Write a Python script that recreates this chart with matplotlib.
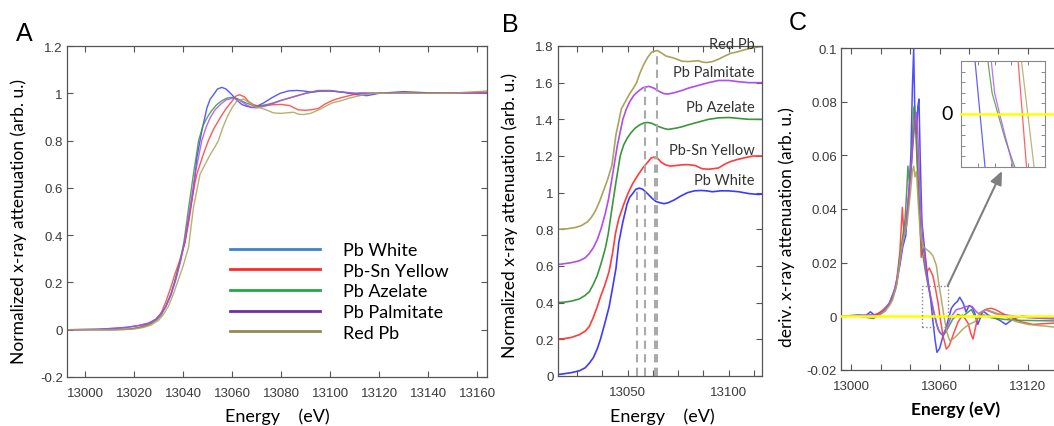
import matplotlib
matplotlib.use("Agg")
import matplotlib.pyplot as plt
from matplotlib.lines import Line2D
from matplotlib.patches import Rectangle

# ---- panel A / B: normalized XANES (eV, arb. u.) ----
names = ["Pb White", "Pb-Sn Yellow", "Pb Azelate", "Pb Palmitate", "Red Pb"]

white_e = [12993, 13005, 13012, 13017, 13022, 13026, 13029, 13031, 13033, 13035, 13036.5, 13038.5,
           13040.8, 13042.5, 13044.2, 13045.6, 13047.6, 13049.7, 13051, 13052.4, 13054, 13055.8,
           13057.5, 13059.9, 13062, 13064, 13066, 13068, 13070, 13073, 13076, 13079.6, 13083,
           13086.4, 13089, 13092, 13096, 13100, 13105, 13110, 13115, 13120, 13130, 13140, 13150, 13164]
white_v = [0, 0.002, 0.006, 0.01, 0.018, 0.028, 0.045, 0.07, 0.1, 0.15, 0.2, 0.28, 0.377, 0.48,
           0.587, 0.728, 0.84, 0.938, 0.975, 0.994, 1.018, 1.025, 1.018, 0.994, 0.97, 0.952, 0.945,
           0.94, 0.945, 0.96, 0.98, 1.0, 1.01, 1.012, 1.01, 1.005, 1.01, 1.01, 1.005, 0.995, 0.99,
           1.0, 1.007, 1.002, 1.0, 1.0]

yellow_e = [12993, 13010, 13018, 13022, 13026, 13029, 13031, 13033, 13035, 13036.7, 13038.5, 13040.8,
            13042.5, 13044, 13045.6, 13048, 13050.3, 13052.5, 13055.1, 13057.5, 13059.9, 13061.5,
            13063, 13065, 13066.7, 13068.7, 13071, 13074, 13077, 13080, 13082, 13083.5, 13085, 13087,
            13090, 13092, 13095, 13098, 13101, 13104, 13107, 13112, 13120, 13140, 13164]
yellow_v = [0, 0, 0.003, 0.01, 0.025, 0.045, 0.07, 0.12, 0.18, 0.237, 0.29, 0.37, 0.47, 0.58, 0.658,
            0.735, 0.8, 0.85, 0.896, 0.935, 0.966, 0.988, 0.994, 0.985, 0.965, 0.952, 0.945, 0.948,
            0.952, 0.953, 0.95, 0.948, 0.94, 0.93, 0.928, 0.93, 0.935, 0.955, 0.97, 0.98, 0.988, 1.0,
            1.0, 1.0, 1.005]

azelate_e = [12993, 13012, 13018, 13022, 13026, 13029, 13031, 13033, 13035, 13037, 13039, 13040.4,
             13042.3, 13044.2, 13046.3, 13048, 13049.7, 13051.5, 13053.7, 13056, 13058, 13059.9, 13062,
             13065, 13068, 13070, 13074, 13077, 13080, 13085, 13090, 13095, 13100, 13105, 13110, 13130,
             13164]
azelate_v = [0, 0, 0.002, 0.008, 0.02, 0.04, 0.06, 0.1, 0.15, 0.22, 0.3, 0.377, 0.52, 0.658, 0.8,
             0.86, 0.896, 0.925, 0.952, 0.97, 0.98, 0.983, 0.978, 0.962, 0.95, 0.945, 0.952, 0.96,
             0.97, 0.985, 1.0, 1.008, 1.01, 1.005, 1.0, 1.0, 1.0]

palmitate_e = [12993, 13005, 13012, 13017, 13022, 13026, 13029, 13031, 13033, 13035, 13037, 13039,
               13040.6, 13042.7, 13044.9, 13047.6, 13049.3, 13051, 13053, 13055.1, 13057.5, 13060.5,
               13063, 13066, 13068, 13070, 13073, 13077, 13080, 13085, 13090, 13095, 13100, 13105,
               13110, 13130, 13164]
palmitate_v = [0, 0.002, 0.006, 0.01, 0.018, 0.028, 0.045, 0.068, 0.1, 0.145, 0.21, 0.29, 0.37, 0.51,
               0.658, 0.8, 0.855, 0.896, 0.93, 0.952, 0.972, 0.98, 0.97, 0.95, 0.94, 0.938, 0.945,
               0.958, 0.97, 0.985, 1.0, 1.012, 1.012, 1.005, 1.0, 1.0, 1.0]

redpb_e = [12993, 13015, 13020, 13024, 13027, 13030, 13032, 13034, 13036, 13038, 13040, 13042.2,
           13044.2, 13046.9, 13049, 13051, 13052.8, 13054.4, 13056, 13057.8, 13060, 13061.9, 13064.6,
           13067, 13069, 13072.6, 13076.9, 13080, 13083, 13085, 13087, 13089.1, 13092, 13095.4, 13098,
           13101, 13104, 13108, 13112, 13117.6, 13130, 13150, 13164]
redpb_v = [0, 0, 0.003, 0.01, 0.02, 0.04, 0.065, 0.1, 0.15, 0.21, 0.27, 0.349, 0.517, 0.658, 0.7,
           0.74, 0.77, 0.8, 0.85, 0.896, 0.94, 0.966, 0.976, 0.96, 0.945, 0.935, 0.917, 0.915, 0.918,
           0.92, 0.912, 0.91, 0.915, 0.93, 0.945, 0.96, 0.967, 0.98, 0.99, 1.0, 1.0, 1.0, 1.01]

# vertical offsets used in panel B
b_offsets = [0.0, 0.2, 0.4, 0.6, 0.8]
# dashed markers in panel B: energy and top of the line
peak_e = [13054.6, 13058.7, 13063.7, 13064.4]
peak_top = [1.02, 1.58, 1.2, 1.77]

# ---- panel C: first derivative ----
d_white_e = [12993, 13000, 13005, 13010, 13013, 13016, 13020, 13025, 13028, 13030, 13033, 13035, 13037,
             13039, 13040.5, 13041.5, 13042.4, 13043.3, 13044.3, 13045.2, 13046, 13046.8, 13048, 13050,
             13052, 13054, 13055.5, 13057, 13058.2, 13060, 13062, 13064, 13066, 13068, 13070, 13072,
             13073.7, 13076, 13078, 13080, 13082, 13084, 13086, 13089.5, 13093, 13097, 13101, 13105,
             13110, 13116, 13125, 13138, 13150]
d_white_v = [0, 0.0003, 0.0005, 0.0003, 0.0017, 0.0003, 0.0015, 0.004, 0.007, 0.010, 0.019, 0.026,
             0.03, 0.045, 0.06, 0.085, 0.0996, 0.072, 0.068, 0.078, 0.081, 0.06, 0.035, 0.024, 0.014,
             0.006, -0.002, -0.009, -0.0134, -0.012, -0.008, -0.005, -0.001, 0.003, 0.0045, 0.0055,
             0.0071, 0.005, 0.0016, 0.004, 0.0035, 0.001, -0.003, 0.002, 0.0005, -0.0005, -0.0015,
             -0.003, -0.001, 0.0002, -0.0005, -0.0005, -0.0005]

d_yellow_e = [12993, 13005, 13012, 13018, 13022, 13026, 13029, 13031, 13033, 13034.7, 13035.8, 13037,
              13038.5, 13040, 13041.5, 13042.5, 13043.5, 13044.5, 13045.5, 13046.5, 13047.5, 13048.7,
              13050, 13051, 13053, 13055.5, 13057, 13058.9, 13060.5, 13062.3, 13064.6, 13066.5,
              13068.5, 13070.5, 13072.5, 13075.5, 13077.5, 13079.5, 13081, 13082.7, 13084.5, 13086,
              13089, 13091.8, 13095, 13098, 13103, 13107.7, 13115, 13123.5, 13138, 13150]
d_yellow_v = [0, 0.0002, 0.0, 0.001, 0.0025, 0.005, 0.009, 0.014, 0.024, 0.0406, 0.03, 0.033, 0.04,
              0.05, 0.062, 0.07, 0.075, 0.064, 0.05, 0.038, 0.022, 0.025, 0.023, 0.0164, 0.018, 0.015,
              0.011, 0.0052, -0.001, -0.0072, -0.0122, -0.011, -0.008, -0.005, -0.0022, 0.0005,
              -0.001, -0.0027, -0.006, -0.0085, -0.004, 0.0, 0.0015, 0.0027, 0.003, 0.0025, 0.001,
              -0.0001, -0.002, -0.003, -0.0025, -0.002]

d_azelate_e = [12993, 13005, 13010, 13015, 13019, 13023, 13026, 13029, 13031, 13033, 13035, 13036.5,
               13037.5, 13038.5, 13039.5, 13040.5, 13041.5, 13042.3, 13043, 13043.8, 13044.5, 13045.5,
               13046.5, 13048, 13050, 13052, 13055, 13058, 13060, 13062.3, 13064, 13066, 13069,
               13072.5, 13075.9, 13078, 13081.6, 13085, 13090, 13095, 13105, 13115, 13138, 13150]
d_azelate_v = [0, 0.0002, -0.0003, -0.0008, 0.0005, 0.002, 0.005, 0.009, 0.013, 0.022, 0.03, 0.036,
               0.045, 0.056, 0.05, 0.052, 0.065, 0.077, 0.0785, 0.07, 0.06, 0.048, 0.038, 0.025, 0.018,
               0.012, 0.004, -0.003, -0.006, -0.0072, -0.006, -0.004, -0.001, 0.0007, -0.0001, 0.001,
               0.0025, -0.001, 0.0005, -0.0005, -0.0012, -0.0015, -0.0017, -0.0017]

d_palmitate_e = [12993, 13005, 13013, 13018, 13022, 13026, 13030, 13033, 13035, 13037, 13039, 13041,
                 13042.5, 13043.5, 13044.2, 13045, 13045.8, 13047, 13049, 13051, 13053, 13056, 13059,
                 13062, 13065, 13068, 13071.4, 13075, 13078, 13082, 13084.5, 13086.5, 13091, 13098,
                 13108, 13120, 13138, 13150]
d_palmitate_v = [0, 0.0002, 0.0006, 0.0004, 0.002, 0.005, 0.011, 0.02, 0.027, 0.034, 0.046, 0.058,
                 0.068, 0.074, 0.076, 0.07, 0.06, 0.042, 0.026, 0.016, 0.01, 0.002, -0.005, -0.007,
                 -0.004, 0.0, 0.0025, 0.003, 0.0037, 0.0037, 0.002, 0.001, 0.0025, 0.001, 0.0003,
                 -0.0005, -0.001, -0.001]

d_redpb_e = [12993, 13005, 13012, 13018, 13023, 13026, 13028, 13031, 13034, 13036, 13038, 13040,
             13041.5, 13042.4, 13043.3, 13044.3, 13045.5, 13047, 13049, 13051, 13053.3, 13055.5,
             13057.8, 13059.5, 13061.2, 13063, 13065, 13066.9, 13069, 13072, 13075.9, 13080, 13084,
             13088, 13091.8, 13097, 13104, 13112, 13120, 13138, 13150]
d_redpb_v = [0, 0.0001, -0.0005, 0.0, 0.002, 0.004, 0.006, 0.012, 0.025, 0.03, 0.035, 0.045, 0.054,
             0.056, 0.052, 0.054, 0.042, 0.03, 0.026, 0.025, 0.024, 0.0225, 0.019, 0.012, 0.0064, 0.0,
             -0.006, -0.0091, -0.0085, -0.007, -0.0047, -0.003, -0.002, 0.0015, 0.0025, 0.0015, 0.0,
             -0.002, -0.003, -0.004, -0.004]

# zoom inset in panel C (inset units: x 0..1, y -1..1, zero line at 0)
ins_white_x, ins_white_y = [0.167, 0.286], [1, -1]
ins_azelate_x, ins_azelate_y = [0.32, 0.37, 0.44, 0.53, 0.64], [1, 0.4, 0, -0.5, -1]
ins_palmitate_x, ins_palmitate_y = [0.36, 0.40, 0.46, 0.54, 0.62], [1, 0.4, 0, -0.5, -1]
ins_yellow_x, ins_yellow_y = [0.68, 0.78], [1, -1]
ins_redpb_x, ins_redpb_y = [0.72, 0.87], [1, -1]

line_colors = ["#3b3bff", "#ff3b3b", "#3c963c", "#b04cf0", "#a8a45a"]
legend_colors = ["#3d85c6", "#ff2a2a", "#22aa44", "#7030a0", "#948a54"]

TICK = "#3a3a3a"
LABEL_FONT = ["Lato", "DejaVu Sans"]
plt.rcParams["font.family"] = ["Liberation Sans", "DejaVu Sans"]

W, H = 1054, 427
fig = plt.figure(figsize=(W / 100, H / 100), dpi=100)


def axes_px(left, top, right, bottom):
    return fig.add_axes([left / W, 1 - bottom / H, (right - left) / W, (bottom - top) / H])


def style(ax):
    ax.tick_params(which="both", direction="in", top=True, right=True, length=4,
                   width=0.8, color="#555555", labelsize=9.5, labelcolor=TICK)
    ax.tick_params(axis="x", pad=7)
    ax.tick_params(axis="y", pad=3)
    for sp in ax.spines.values():
        sp.set_color("#555555")
        sp.set_linewidth(0.9)


def fmt(v):
    return f"{v:g}"


curves = [(white_e, white_v), (yellow_e, yellow_v), (azelate_e, azelate_v),
          (palmitate_e, palmitate_v), (redpb_e, redpb_v)]
dcurves = [(d_white_e, d_white_v), (d_yellow_e, d_yellow_v), (d_azelate_e, d_azelate_v),
           (d_palmitate_e, d_palmitate_v), (d_redpb_e, d_redpb_v)]

# ---------------- A ----------------
axA = axes_px(67, 47, 487, 378)
for (e, v), c in zip(curves, line_colors):
    axA.plot(e, v, color=c, lw=1.0, alpha=0.85)
axA.set_xlim(12992.6, 13164)
axA.set_ylim(-0.2, 1.2)
xt = list(range(13000, 13161, 20))
axA.set_xticks(xt)
yt = [-0.2, 0, 0.2, 0.4, 0.6, 0.8, 1.0, 1.2]
axA.set_yticks(yt)
axA.set_yticklabels([fmt(v) for v in yt])
style(axA)
handles = [Line2D([], [], color=c, lw=2.0) for c in legend_colors]
axA.legend(handles, names, loc="upper left", bbox_to_anchor=(0.388, 0.408), frameon=False,
           borderpad=0, borderaxespad=0, handlelength=5.0, handletextpad=1.25,
           labelspacing=0.26, prop={"family": LABEL_FONT, "size": 13})

# ---------------- B ----------------
axB = axes_px(558, 47, 762, 377)
for (e, v), c, off in zip(curves, line_colors, b_offsets):
    axB.plot(e, [y + off for y in v], color=c, lw=1.2)
for pe, pt in zip(peak_e, peak_top):
    axB.plot([pe, pe], [0, pt], color="#aaaaaa", lw=1.5, ls=(0, (4, 2.5)))
axB.set_xlim(13015.5, 13116.5)
axB.set_ylim(0, 1.8)
bx = [13025, 13037.5, 13050, 13062.5, 13075, 13087.5, 13100, 13112.5]
axB.set_xticks(bx)
axB.set_xticklabels([fmt(v) if v in (13050, 13100) else "" for v in bx])
byt = [0, 0.2, 0.4, 0.6, 0.8, 1.0, 1.2, 1.4, 1.6, 1.8]
axB.set_yticks(byt)
axB.set_yticklabels([fmt(v) for v in byt])
style(axB)
b_label_y = [1.07, 1.233, 1.47, 1.66, 1.81]
for name, ly in zip(names, b_label_y):
    axB.text(13113, ly, name, ha="right", va="center", fontsize=10.5, family=LABEL_FONT,
             color="#333333")

# ---------------- C ----------------
axC = axes_px(841, 49, 1072, 371)
for (e, v), c in zip(dcurves, line_colors):
    axC.plot(e, v, color=c, lw=1.1, alpha=0.9)
axC.axhline(0, color="#ffff00", lw=1.8, zorder=4)
axC.add_patch(Rectangle((13047.8, -0.004), 17.7, 0.0153, fill=False, ls=":", lw=1.0,
                        edgecolor="#888888", zorder=5))
axC.set_xlim(12993, 13150)
axC.set_ylim(-0.02, 0.1)
cx = list(range(13000, 13141, 20))
axC.set_xticks(cx)
axC.set_xticklabels([fmt(v) if v in (13000, 13060, 13120) else "" for v in cx])
cyt = [-0.02, 0, 0.02, 0.04, 0.06, 0.08, 0.1]
axC.set_yticks(cyt)
axC.set_yticklabels([fmt(v) for v in cyt])
style(axC)
axC.annotate("", xy=(1002 / W, 1 - 172 / H), xycoords="figure fraction",
             xytext=(13065.5, 0.0113), textcoords="data",
             arrowprops=dict(arrowstyle="-|>,head_length=0.8,head_width=0.35",
                             color="#7f7f7f", lw=1.5, shrinkA=0, shrinkB=0))

axI = axes_px(961, 62, 1045, 168)
ins = [(ins_white_x, ins_white_y), (ins_yellow_x, ins_yellow_y), (ins_azelate_x, ins_azelate_y),
       (ins_palmitate_x, ins_palmitate_y), (ins_redpb_x, ins_redpb_y)]
for (x, y), c in zip(ins, line_colors):
    axI.plot(x, y, color=c, lw=0.9, alpha=0.8)
axI.axhline(0, xmin=0, xmax=1.12, color="#ffff00", lw=1.8, clip_on=False, zorder=4)
axI.set_xlim(0, 1)
axI.set_ylim(-1, 1)
axI.set_xticks([0.2, 0.4, 0.6, 0.8])
axI.set_yticks([-0.8, -0.6, -0.4, -0.2, 0, 0.2, 0.4, 0.6, 0.8])
axI.tick_params(which="both", direction="in", top=True, right=True, length=3, width=0.7,
                color="#888888", labelbottom=False, labelleft=False)
for sp in axI.spines.values():
    sp.set_color("#888888")
axI.text(-0.17, 0.5, "0", transform=axI.transAxes, ha="center", va="center", fontsize=14,
         family=LABEL_FONT)

# ---------------- labels ----------------
ylab = "Normalized x-ray attenuation (arb. u.)"
fig.text(19 / W, 1 - 221 / H, ylab, rotation=90, ha="center", va="center", fontsize=12.5,
         family=LABEL_FONT)
fig.text(510 / W, 1 - 216 / H, ylab, rotation=90, ha="center", va="center", fontsize=12.5,
         family=LABEL_FONT)
fig.text(787 / W, 1 - 227 / H, "deriv. x-ray attenuation (arb. u.)", rotation=90, ha="center",
         va="center", fontsize=12.5, family=LABEL_FONT)
fig.text(277 / W, 1 - 417 / H, "Energy    (eV)", ha="center", va="center", fontsize=13,
         family=LABEL_FONT)
fig.text(662 / W, 1 - 417 / H, "Energy    (eV)", ha="center", va="center", fontsize=13,
         family=LABEL_FONT)
fig.text(956 / W, 1 - 410 / H, "Energy (eV)", ha="center", va="center", fontsize=12.5,
         family=LABEL_FONT, weight="bold")
for letter, lx, ly in [("A", 24, 34), ("B", 510, 25), ("C", 798, 23)]:
    fig.text(lx / W, 1 - ly / H, letter, ha="center", va="center", fontsize=18)

fig.savefig("out.png", dpi=100)
